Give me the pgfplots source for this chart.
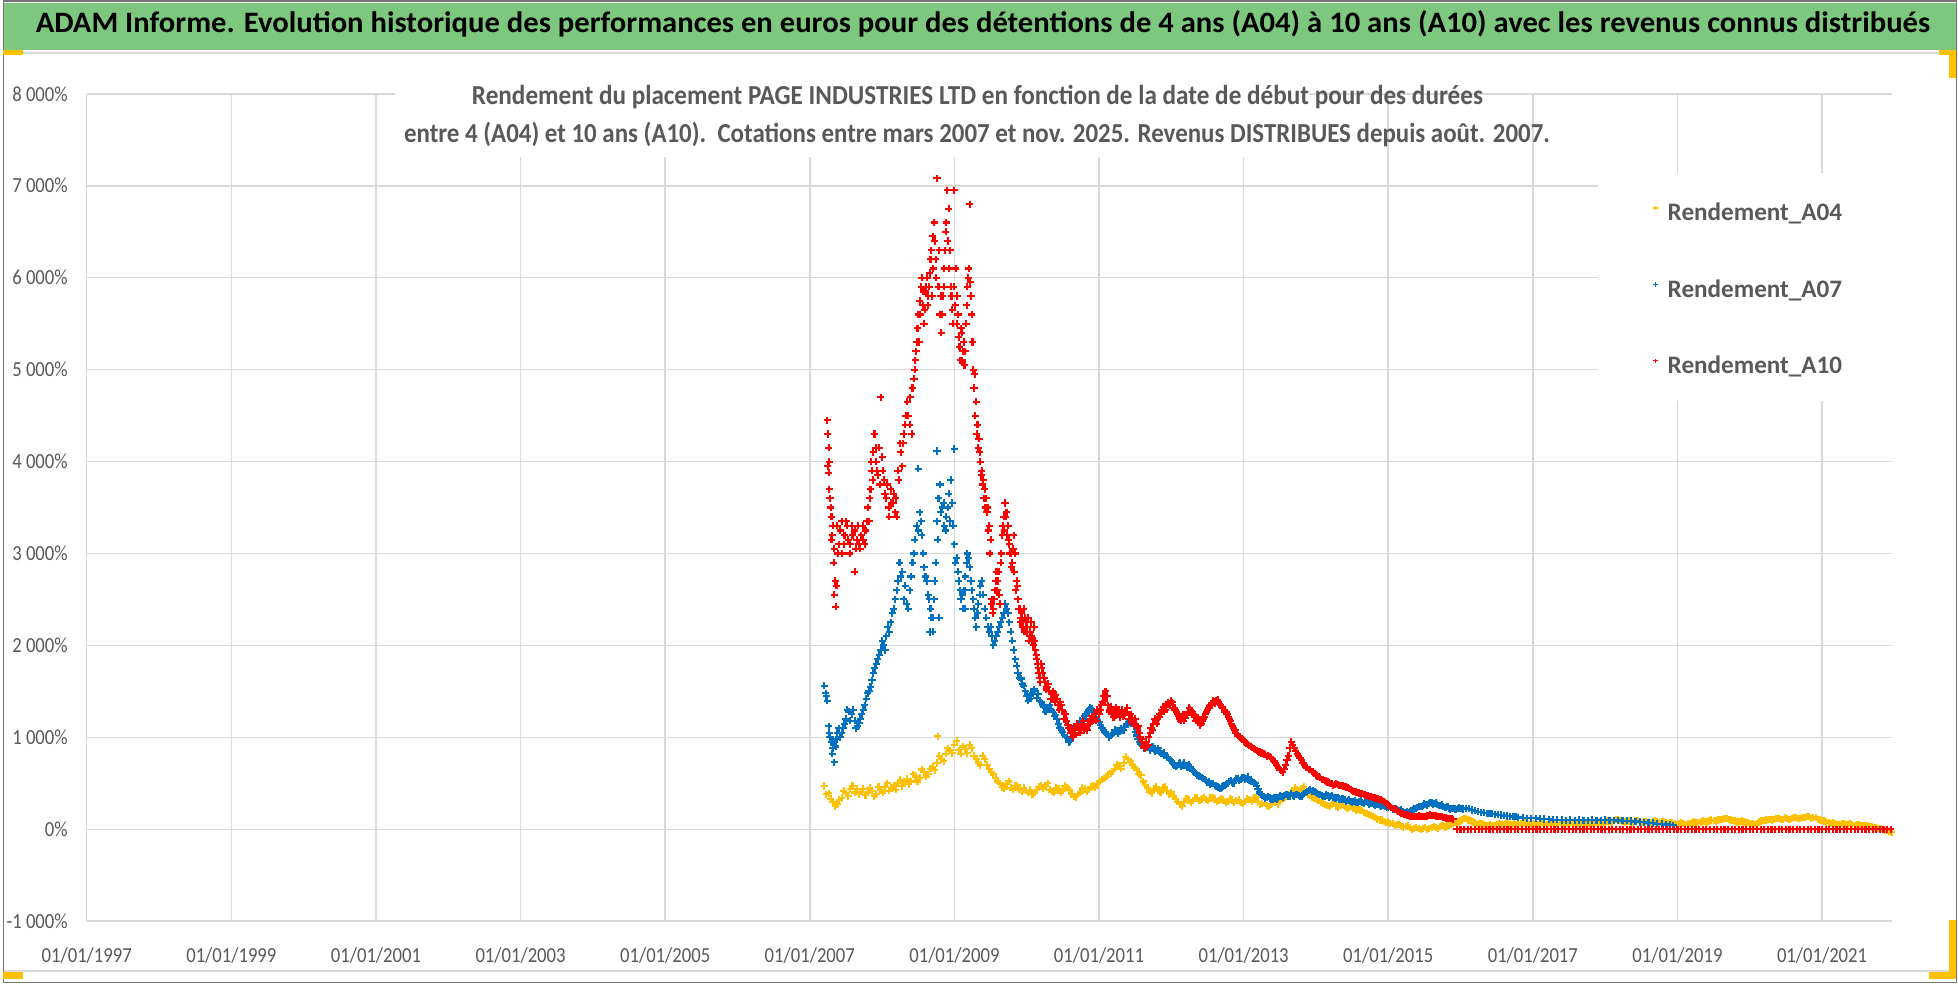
\documentclass[border=0pt]{standalone}
\usepackage{pgfplots}
\pgfplotsset{compat=1.18}
\usepackage{fontspec}
\setmainfont{Carlito}
\definecolor{gridc}{RGB}{217,217,217}
\definecolor{txt}{RGB}{89,89,89}
\definecolor{ya}{RGB}{255,192,0}
\definecolor{bl}{RGB}{0,112,192}
\definecolor{rd}{RGB}{255,0,0}
\definecolor{gbar}{RGB}{126,199,127}
\definecolor{hand}{RGB}{255,192,0}
\definecolor{frame}{RGB}{118,118,118}
\pgfplotsset{pts/.style={only marks, mark=+, mark size=1.8bp, mark options={line width=1.05bp}}}
\begin{document}
\begin{tikzpicture}[x=0.5bp,y=-0.5bp]
\fill[white] (0,0) rectangle (1958,985);
\fill[gbar] (0,3) rectangle (1958,50);
\draw[gridc,line width=1bp] (0,53) -- (1958,53);
\draw[gridc,line width=1bp] (0,973) -- (1958,973);
\draw[frame,line width=0.75bp] (0.75,0.75) rectangle (1957.25,984.25);
\fill[hand] (0,50) rectangle (20,55);
\fill[hand] (0,974) rectangle (20,981);
\fill[hand] (1940,50) rectangle (1957,55);
\fill[hand] (1950,50) rectangle (1957,78);
\fill[hand] (1950,922) rectangle (1957,981);
\fill[hand] (1930,974) rectangle (1957,981);
\begin{axis}[
  at={(42bp,-461.5bp)}, anchor=south west,
  width=904.5bp, height=414.5bp, scale only axis,
  xmin=1997, xmax=2021.97, ymin=-1000, ymax=8000,
  clip=false,
  xtick={1997,1999,2001,2003,2005,2007,2009,2011,2013,2015,2017,2019,2021},
  xticklabels={01/01/1997,01/01/1999,01/01/2001,01/01/2003,01/01/2005,01/01/2007,01/01/2009,01/01/2011,01/01/2013,01/01/2015,01/01/2017,01/01/2019,01/01/2021},
  ytick={-1000,0,1000,2000,3000,4000,5000,6000,7000,8000},
  yticklabels={-1 000\%,0\%,1 000\%,2 000\%,3 000\%,4 000\%,5 000\%,6 000\%,7 000\%,8 000\%},
  grid=major, major grid style={gridc,line width=0.75bp},
  axis line style={draw=none}, major tick length=0pt,
  tick label style={font=\fontsize{9.35bp}{11bp}\selectfont, text=txt, yscale=1.15},
  yticklabel style={xshift=-6bp},
  xticklabel style={yshift=-8bp},
  legend style={at={(axis description cs:0.8675,0.8685)}, anchor=north west, draw=none, fill=none,
    inner sep=0pt, row sep=26.25bp, column sep=5bp,
    nodes={inner sep=0pt, text height=9bp, text depth=3bp},
    font=\fontsize{12.6bp}{15bp}\selectfont\bfseries, text=txt},
  legend cell align=left,
  legend image code/.code={\draw[#1, mark size=1.1bp, mark options={line width=0.65bp}] plot coordinates {(0bp,3.5bp)};},
]
% ---------------- Rendement_A04
\addplot[pts, ya] coordinates {
(2007.20,470) (2007.26,390) (2007.32,300) (2007.38,270) (2007.44,340) (2007.50,390) (2007.56,440) (2007.62,400) (2007.68,380) (2007.74,440)
(2007.80,400) (2007.86,420) (2007.92,380) (2007.98,430) (2008.04,460) (2008.10,420) (2008.16,480) (2008.22,500) (2008.28,470) (2008.34,550)
(2008.40,520) (2008.46,580) (2008.52,560) (2008.58,620) (2008.64,600) (2008.70,680) (2008.76,720) (2008.82,760) (2008.88,820) (2008.94,860)
(2009.00,920) (2009.06,860) (2009.12,900) (2009.18,830) (2009.24,880) (2009.30,760) (2009.36,700) (2009.42,760) (2009.48,660) (2009.54,600)
(2009.60,520) (2009.66,460) (2009.72,490) (2009.78,450) (2009.84,470) (2009.90,430) (2009.96,450) (2010.02,400) (2010.08,380) (2010.14,430)
(2010.20,470) (2010.26,480) (2010.32,430) (2010.38,400) (2010.44,440) (2010.50,420) (2010.56,450) (2010.62,380) (2010.68,350) (2010.74,400)
(2010.80,440) (2010.86,430) (2010.92,470) (2010.98,490) (2011.04,540) (2011.10,570) (2011.16,610) (2011.22,660) (2011.28,690) (2011.34,720)
(2011.40,760) (2011.46,700) (2011.52,650) (2011.58,590) (2011.64,480) (2011.70,410) (2011.76,440) (2011.82,420) (2011.88,450) (2011.94,420)
(2012.00,400) (2012.06,330) (2012.12,270) (2012.18,300) (2012.24,320) (2012.30,310) (2012.36,340) (2012.42,330) (2012.48,320) (2012.54,340)
(2012.60,330) (2012.66,310) (2012.72,320) (2012.78,300) (2012.84,320) (2012.90,310) (2012.96,290) (2013.02,300) (2013.08,320) (2013.14,340)
(2013.20,300) (2013.26,280) (2013.32,260) (2013.38,270) (2013.44,290) (2013.50,300) (2013.56,340) (2013.62,380) (2013.68,410) (2013.74,430)
(2013.80,440) (2013.86,400) (2013.92,370) (2013.98,340) (2014.04,310) (2014.10,280) (2014.16,260) (2014.22,270) (2014.28,250) (2014.34,260)
(2014.40,250) (2014.46,240) (2014.52,230) (2014.58,220) (2014.64,200) (2014.70,170) (2014.76,150) (2014.82,130) (2014.88,100) (2014.94,85)
(2015.00,80) (2015.06,60) (2015.12,50) (2015.18,40) (2015.24,30) (2015.30,20) (2015.36,10) (2015.42,5) (2015.48,10) (2015.54,0)
(2015.60,15) (2015.66,20) (2015.72,30) (2015.78,25) (2015.84,45) (2015.90,60) (2015.96,80) (2016.02,100) (2016.08,115) (2016.14,90)
(2016.20,70) (2016.26,60) (2016.32,50) (2016.38,45) (2016.44,40) (2016.50,50) (2016.56,55) (2016.62,60) (2016.68,50) (2016.74,60)
(2016.80,55) (2016.86,65) (2016.92,60) (2016.98,55) (2017.04,60) (2017.10,65) (2017.16,55) (2017.22,60) (2017.28,70) (2017.34,60)
(2017.40,55) (2017.46,65) (2017.52,60) (2017.58,70) (2017.64,60) (2017.70,55) (2017.76,65) (2017.82,60) (2017.88,70) (2017.94,75)
(2018.00,80) (2018.06,85) (2018.12,95) (2018.18,100) (2018.24,90) (2018.30,85) (2018.36,80) (2018.42,90) (2018.48,85) (2018.54,80)
(2018.60,75) (2018.66,80) (2018.72,85) (2018.78,80) (2018.84,75) (2018.90,70) (2018.96,65) (2019.02,60) (2019.08,65) (2019.14,60)
(2019.20,70) (2019.26,75) (2019.32,80) (2019.38,85) (2019.44,90) (2019.50,95) (2019.56,100) (2019.62,110) (2019.68,115) (2019.74,100)
(2019.80,90) (2019.86,85) (2019.92,80) (2019.98,70) (2020.04,60) (2020.10,65) (2020.16,90) (2020.22,100) (2020.28,105) (2020.34,110)
(2020.40,115) (2020.46,110) (2020.52,120) (2020.58,115) (2020.64,125) (2020.70,120) (2020.76,130) (2020.82,135) (2020.88,125) (2020.94,110)
(2021.00,95) (2021.06,80) (2021.12,65) (2021.18,60) (2021.24,55) (2021.30,60) (2021.36,50) (2021.42,55) (2021.48,50) (2021.54,45)
(2021.60,40) (2021.66,30) (2021.72,20) (2021.78,10) (2021.84,0) (2021.90,-15) (2021.96,-30) (2008.77,1010)
};
\addlegendentry{Rendement\_A04}
\addplot[pts, ya, forget plot] coordinates {
(2007.23,380) (2007.29,330) (2007.35,250) (2007.41,320) (2007.47,420) (2007.53,360) (2007.59,470) (2007.65,440) (2007.71,410) (2007.77,370)
(2007.83,450) (2007.89,360) (2007.95,460) (2008.01,400) (2008.07,500) (2008.13,450) (2008.19,430) (2008.25,540) (2008.31,510) (2008.37,490)
(2008.43,600) (2008.49,520) (2008.55,650) (2008.61,570) (2008.67,660) (2008.73,640) (2008.79,800) (2008.85,740) (2008.91,880) (2008.97,830)
(2009.03,960) (2009.09,820) (2009.15,870) (2009.21,920) (2009.27,800) (2009.33,720) (2009.39,800) (2009.45,700) (2009.51,620) (2009.57,560)
(2009.63,500) (2009.69,440) (2009.75,520) (2009.81,430) (2009.87,480) (2009.93,410) (2009.99,420) (2010.05,430) (2010.11,400) (2010.17,460)
(2010.23,440) (2010.29,500) (2010.35,410) (2010.41,450) (2010.47,400) (2010.53,470) (2010.59,430) (2010.65,360) (2010.71,380) (2010.77,450)
(2010.83,410) (2010.89,460) (2010.95,450) (2011.01,520) (2011.07,550) (2011.13,600) (2011.19,630) (2011.25,700) (2011.31,660) (2011.37,790)
(2011.43,740) (2011.49,680) (2011.55,600) (2011.61,520) (2011.67,450) (2011.73,390) (2011.79,460) (2011.85,400) (2011.91,460) (2011.97,380)
(2012.03,360) (2012.09,300) (2012.15,250) (2012.21,330) (2012.27,290) (2012.33,340) (2012.39,310) (2012.45,350) (2012.51,310) (2012.57,350)
(2012.63,300) (2012.69,330) (2012.75,290) (2012.81,330) (2012.87,290) (2012.93,320) (2012.99,280) (2013.05,330) (2013.11,300) (2013.17,350)
(2013.23,270) (2013.29,290) (2013.35,250) (2013.41,300) (2013.47,270) (2013.53,320) (2013.59,360) (2013.65,400) (2013.71,450) (2013.77,420)
(2013.83,460) (2013.89,380) (2013.95,350) (2014.01,320) (2014.07,290) (2014.13,270) (2014.19,250) (2014.25,280) (2014.31,240) (2014.37,270)
(2014.43,230) (2014.49,250) (2014.55,210) (2014.61,210) (2014.67,180) (2014.73,160) (2014.79,140) (2014.85,110) (2014.91,100) (2014.97,70)
(2015.03,65) (2015.09,45) (2015.15,55) (2015.21,25) (2015.27,35) (2015.33,0) (2015.39,20) (2015.45,-5) (2015.51,20) (2015.57,10)
(2015.63,30) (2015.69,10) (2015.75,40) (2015.81,35) (2015.87,55) (2015.93,70) (2015.99,90) (2016.05,120) (2016.11,100) (2016.17,80)
(2016.23,55) (2016.29,65) (2016.35,40) (2016.41,55) (2016.47,35) (2016.53,60) (2016.59,50) (2016.65,65) (2016.71,55) (2016.77,50)
(2016.83,60) (2016.89,70) (2016.95,50) (2017.01,65) (2017.07,55) (2017.13,70) (2017.19,50) (2017.25,65) (2017.31,55) (2017.37,70)
(2017.43,50) (2017.49,60) (2017.55,65) (2017.61,55) (2017.67,70) (2017.73,60) (2017.79,55) (2017.85,65) (2017.91,80) (2017.97,70)
(2018.03,90) (2018.09,80) (2018.15,105) (2018.21,95) (2018.27,80) (2018.33,90) (2018.39,75) (2018.45,95) (2018.51,75) (2018.57,85)
(2018.63,70) (2018.69,90) (2018.75,75) (2018.81,85) (2018.87,65) (2018.93,75) (2018.99,55) (2019.05,70) (2019.11,55) (2019.17,65)
(2019.23,80) (2019.29,70) (2019.35,90) (2019.41,80) (2019.47,100) (2019.53,90) (2019.59,105) (2019.65,120) (2019.71,110) (2019.77,95)
(2019.83,80) (2019.89,90) (2019.95,75) (2020.01,65) (2020.07,55) (2020.13,80) (2020.19,95) (2020.25,110) (2020.31,100) (2020.37,120)
(2020.43,105) (2020.49,125) (2020.55,110) (2020.61,130) (2020.67,115) (2020.73,125) (2020.79,140) (2020.85,120) (2020.91,130) (2020.97,100)
(2021.03,90) (2021.09,70) (2021.15,70) (2021.21,50) (2021.27,65) (2021.33,55) (2021.39,60) (2021.45,45) (2021.51,55) (2021.57,35)
(2021.63,40) (2021.69,25) (2021.75,15) (2021.81,5) (2021.87,-10) (2021.93,-20)
};
% ---------------- Rendement_A07
\addplot[pts, bl] coordinates {
(2007.20,1560) (2007.22,1480) (2007.24,1400) (2007.26,1120) (2007.28,1000) (2007.30,950) (2007.32,880) (2007.34,730) (2007.36,900) (2007.38,1050)
(2007.42,1000) (2007.46,1100) (2007.50,1200) (2007.54,1280) (2007.58,1250) (2007.62,1180) (2007.66,1120) (2007.70,1200) (2007.74,1300) (2007.78,1420)
(2007.82,1500) (2007.86,1620) (2007.90,1750) (2007.94,1850) (2007.98,1950) (2008.02,2000) (2008.06,2100) (2008.10,2150) (2008.14,2350) (2008.18,2500)
(2008.22,2700) (2008.24,2900) (2008.28,2800) (2008.32,2650) (2008.34,2450) (2008.38,2600) (2008.42,2900) (2008.45,3150) (2008.48,3300) (2008.52,3450)
(2008.55,3200) (2008.58,2850) (2008.62,2700) (2008.65,2500) (2008.68,2300) (2008.70,2150) (2008.72,2500) (2008.74,2900) (2008.76,3350) (2008.78,3600)
(2008.80,3750) (2008.83,3500) (2008.86,3300) (2008.89,3400) (2008.92,3650) (2008.95,3800) (2008.98,3300) (2009.00,3100) (2009.03,2950) (2009.06,2700)
(2009.09,2500) (2009.12,2400) (2009.15,2750) (2009.18,3000) (2009.21,2850) (2009.24,2600) (2009.27,2400) (2009.30,2200) (2009.33,2450) (2009.36,2650)
(2009.40,2550) (2009.44,2300) (2009.48,2150) (2009.52,2100) (2009.56,2050) (2009.60,2150) (2009.64,2250) (2009.68,2350) (2009.72,2400) (2009.76,2250)
(2009.80,2050) (2009.84,1850) (2009.88,1700) (2009.92,1640) (2009.96,1560) (2010.00,1450) (2010.04,1420) (2010.08,1480) (2010.12,1500) (2010.16,1470)
(2010.20,1380) (2010.24,1330) (2010.28,1300) (2010.32,1350) (2010.36,1280) (2010.40,1240) (2010.44,1150) (2010.48,1080) (2010.52,1030) (2010.56,990)
(2010.60,960) (2010.64,1050) (2010.68,1120) (2010.72,1150) (2010.76,1170) (2010.80,1230) (2010.84,1280) (2010.88,1320) (2010.92,1280) (2010.96,1220)
(2011.00,1170) (2011.04,1100) (2011.08,1060) (2011.12,1030) (2011.16,1020) (2011.20,1050) (2011.24,1070) (2011.28,1060) (2011.32,1080) (2011.36,1110)
(2011.40,1150) (2011.44,1170) (2011.48,1120) (2011.52,1020) (2011.56,950) (2011.60,910) (2011.64,900) (2011.68,890) (2011.72,880) (2011.76,870)
(2011.80,860) (2011.84,840) (2011.88,820) (2011.92,800) (2011.96,780) (2012.00,740) (2012.04,700) (2012.08,690) (2012.12,720) (2012.16,700)
(2012.20,690) (2012.24,700) (2012.28,650) (2012.32,620) (2012.36,590) (2012.40,570) (2012.44,550) (2012.48,530) (2012.52,520) (2012.56,500)
(2012.60,480) (2012.64,460) (2012.68,440) (2012.72,470) (2012.76,490) (2012.80,520) (2012.84,510) (2012.88,530) (2012.92,550) (2012.96,540)
(2013.00,560) (2013.04,550) (2013.08,530) (2013.12,520) (2013.16,500) (2013.20,440) (2013.24,380) (2013.28,360) (2013.32,350) (2013.36,340)
(2013.40,330) (2013.44,340) (2013.48,350) (2013.52,360) (2013.56,370) (2013.60,380) (2013.64,360) (2013.68,370) (2013.72,380) (2013.76,370)
(2013.80,360) (2013.84,390) (2013.88,410) (2013.92,430) (2013.96,420) (2014.00,400) (2014.04,380) (2014.08,370) (2014.12,360) (2014.16,370)
(2014.20,360) (2014.24,350) (2014.28,340) (2014.32,330) (2014.36,330) (2014.40,320) (2014.44,310) (2014.48,300) (2014.52,300) (2014.56,290)
(2014.60,300) (2014.64,290) (2014.68,300) (2014.72,290) (2014.76,280) (2014.80,270) (2014.84,270) (2014.88,260) (2014.92,255) (2014.96,250)
(2015.00,240) (2015.04,235) (2015.08,225) (2015.12,210) (2015.16,200) (2015.20,190) (2015.24,185) (2015.28,180) (2015.32,200) (2015.36,220)
(2015.40,235) (2015.44,250) (2015.48,260) (2015.52,270) (2015.56,280) (2015.60,285) (2015.64,280) (2015.68,270) (2015.72,260) (2015.76,245)
(2015.80,240) (2015.84,230) (2015.88,225) (2015.92,220) (2015.96,230) (2016.00,225) (2016.04,220) (2016.08,230) (2016.12,225) (2016.16,210)
(2016.20,200) (2016.24,190) (2016.28,185) (2016.32,180) (2016.36,175) (2016.40,170) (2016.44,170) (2016.48,165) (2016.52,160) (2016.56,155)
(2016.60,150) (2016.64,145) (2016.68,140) (2016.72,135) (2016.76,135) (2016.80,130) (2016.86,125) (2016.92,120) (2016.98,120) (2017.04,118)
(2017.10,116) (2017.16,112) (2017.22,108) (2017.28,105) (2017.34,102) (2017.40,100) (2017.46,98) (2017.52,100) (2017.58,98) (2017.64,100)
(2017.70,97) (2017.76,98) (2017.82,100) (2017.88,97) (2017.94,98) (2018.00,100) (2018.06,98) (2018.12,96) (2018.18,95) (2018.24,94)
(2018.30,92) (2018.36,90) (2018.42,85) (2018.48,80) (2018.54,78) (2018.60,72) (2018.66,68) (2018.72,62) (2018.78,58) (2018.84,52)
(2018.90,46) (2018.94,44) (2008.50,3920) (2008.76,4115) (2009.00,4137) (2008.66,2145) (2008.79,2300) (2009.15,2400)
};
\addlegendentry{Rendement\_A07}
\addplot[pts, bl, forget plot] coordinates {
(2007.23,1450) (2007.27,1050) (2007.31,820) (2007.33,950) (2007.37,980) (2007.40,1100) (2007.44,1050) (2007.48,1150) (2007.52,1300) (2007.56,1180)
(2007.60,1300) (2007.64,1100) (2007.68,1160) (2007.72,1250) (2007.76,1350) (2007.80,1480) (2007.84,1550) (2007.88,1700) (2007.92,1800) (2007.96,1900)
(2008.00,2050) (2008.04,1950) (2008.08,2200) (2008.12,2250) (2008.16,2400) (2008.20,2600) (2008.26,2750) (2008.30,2500) (2008.36,2400) (2008.40,2750)
(2008.44,3000) (2008.50,3250) (2008.54,3350) (2008.57,3000) (2008.60,2750) (2008.64,2550) (2008.67,2400) (2008.71,2300) (2008.73,2700) (2008.77,3150)
(2008.81,3450) (2008.85,3550) (2008.88,3250) (2008.91,3500) (2008.94,3350) (2008.97,3550) (2009.01,2900) (2009.05,2800) (2009.08,2600) (2009.11,2550)
(2009.14,2600) (2009.17,2900) (2009.20,2950) (2009.23,2700) (2009.26,2500) (2009.29,2300) (2009.32,2350) (2009.35,2550) (2009.38,2700) (2009.42,2400)
(2009.46,2200) (2009.50,2200) (2009.54,2000) (2009.58,2100) (2009.62,2200) (2009.66,2300) (2009.70,2450) (2009.74,2350) (2009.78,2150) (2009.82,1950)
(2009.86,1780) (2009.90,1650) (2009.94,1580) (2009.98,1500) (2010.02,1400) (2010.06,1470) (2010.10,1520) (2010.14,1430) (2010.18,1400) (2010.22,1350)
(2010.26,1280) (2010.30,1320) (2010.34,1300) (2010.38,1230) (2010.42,1200) (2010.46,1100) (2010.50,1060) (2010.54,1000) (2010.58,950) (2010.62,1000)
(2010.66,1080) (2010.70,1140) (2010.74,1180) (2010.78,1200) (2010.82,1250) (2010.86,1300) (2010.90,1310) (2010.94,1250) (2010.98,1190) (2011.02,1130)
(2011.06,1080) (2011.10,1040) (2011.14,1000) (2011.18,1040) (2011.22,1080) (2011.26,1040) (2011.30,1100) (2011.34,1080) (2011.38,1140) (2011.42,1180)
(2011.46,1150) (2011.50,1060) (2011.54,980) (2011.58,930) (2011.62,880) (2011.66,920) (2011.70,860) (2011.74,900) (2011.78,850) (2011.82,880)
(2011.86,820) (2011.90,830) (2011.94,780) (2011.98,760) (2012.02,720) (2012.06,680) (2012.10,710) (2012.14,680) (2012.18,720) (2012.22,670)
(2012.26,680) (2012.30,630) (2012.34,610) (2012.38,580) (2012.42,560) (2012.46,540) (2012.50,510) (2012.54,490) (2012.58,500) (2012.62,470)
(2012.66,450) (2012.70,460) (2012.74,480) (2012.78,500) (2012.82,530) (2012.86,500) (2012.90,550) (2012.94,530) (2012.98,560) (2013.02,540)
(2013.06,570) (2013.10,520) (2013.14,510) (2013.18,470) (2013.22,400) (2013.26,370) (2013.30,340) (2013.34,360) (2013.38,330) (2013.42,350)
(2013.46,330) (2013.50,370) (2013.54,350) (2013.58,380) (2013.62,360) (2013.66,390) (2013.70,360) (2013.74,380) (2013.78,360) (2013.82,380)
(2013.86,400) (2013.90,420) (2013.94,410) (2013.98,410) (2014.02,390) (2014.06,380) (2014.10,360) (2014.14,380) (2014.18,350) (2014.22,370)
(2014.26,340) (2014.30,350) (2014.34,320) (2014.38,330) (2014.42,300) (2014.46,320) (2014.50,290) (2014.54,310) (2014.58,290) (2014.62,310)
(2014.66,280) (2014.70,300) (2014.74,275) (2014.78,285) (2014.82,260) (2014.86,275) (2014.90,250) (2014.94,260) (2014.98,240) (2015.02,245)
(2015.06,220) (2015.10,230) (2015.14,200) (2015.18,210) (2015.22,180) (2015.26,195) (2015.30,190) (2015.34,215) (2015.38,230) (2015.42,250)
(2015.46,245) (2015.50,275) (2015.54,265) (2015.58,290) (2015.62,275) (2015.66,285) (2015.70,260) (2015.74,265) (2015.78,235) (2015.82,245)
(2015.86,220) (2015.90,230) (2015.94,215) (2015.98,235)
};
% ---------------- Rendement_A10
\addplot[pts, rd] coordinates {
(2007.24,4450) (2007.25,4300) (2007.26,4150) (2007.25,3950) (2007.26,3880) (2007.27,3700) (2007.28,3600) (2007.30,3400) (2007.32,3300) (2007.34,3050)
(2007.35,2700) (2007.34,2550) (2007.36,2420) (2007.30,3150) (2007.38,3300) (2007.40,3100) (2007.42,3250) (2007.45,3000) (2007.48,3200) (2007.50,3350)
(2007.53,3150) (2007.56,3100) (2007.59,3200) (2007.62,2800) (2007.62,3250) (2007.65,3150) (2007.68,3100) (2007.71,3200) (2007.74,3150) (2007.77,3250)
(2007.80,3500) (2007.82,3350) (2007.84,3700) (2007.86,3900) (2007.88,4100) (2007.90,4300) (2007.92,4000) (2007.94,3850) (2007.96,4150) (2007.98,4700)
(2008.00,4050) (2008.03,3800) (2008.06,3600) (2008.09,3500) (2008.12,3700) (2008.15,3550) (2008.18,3450) (2008.20,3400) (2008.23,3800) (2008.26,4100)
(2008.28,3950) (2008.30,4300) (2008.33,4500) (2008.35,4650) (2008.38,4400) (2008.41,4300) (2008.44,4900) (2008.46,5100) (2008.48,5300) (2008.50,5600)
(2008.52,5750) (2008.54,5900) (2008.56,5700) (2008.58,5500) (2008.60,5850) (2008.62,6000) (2008.64,5800) (2008.66,6050) (2008.68,6300) (2008.70,6450)
(2008.72,6600) (2008.74,6200) (2008.76,7080) (2008.78,5900) (2008.80,5600) (2008.82,5400) (2008.84,5800) (2008.86,6100) (2008.88,6500) (2008.90,6950)
(2008.92,6750) (2008.94,6300) (2008.96,5800) (2008.98,5500) (2009.00,6950) (2009.02,6100) (2009.04,5800) (2009.06,5350) (2009.08,5100) (2009.10,5400)
(2009.12,5200) (2009.14,5050) (2009.16,5500) (2009.18,5900) (2009.20,6100) (2009.22,5950) (2009.21,6800) (2009.24,5600) (2009.26,5000) (2009.28,4950)
(2009.30,4650) (2009.32,4400) (2009.34,4250) (2009.36,4000) (2009.38,3900) (2009.40,3800) (2009.42,3700) (2009.44,3600) (2009.46,3500) (2009.48,3300)
(2009.50,3150) (2009.52,2500) (2009.54,2400) (2009.56,2600) (2009.58,2800) (2009.60,2700) (2009.62,2550) (2009.64,2900) (2009.66,3200) (2009.68,3400)
(2009.70,3550) (2009.72,3450) (2009.74,3300) (2009.76,3100) (2009.78,3000) (2009.80,2900) (2009.82,3200) (2009.84,3000) (2009.86,2700) (2009.88,2500)
(2009.90,2400) (2009.92,2300) (2009.94,2200) (2009.96,2400) (2009.98,2300) (2010.00,2150) (2010.02,2300) (2010.04,2100) (2010.06,2250) (2010.08,2050)
(2010.10,2200) (2010.12,1950) (2010.14,1850) (2010.16,1750) (2010.18,1650) (2010.20,1800) (2010.22,1700) (2010.25,1600) (2010.28,1550) (2010.31,1500)
(2010.34,1480) (2010.37,1420) (2010.40,1460) (2010.43,1350) (2010.46,1380) (2010.49,1300) (2010.52,1250) (2010.55,1180) (2010.58,1100) (2010.61,1050)
(2010.64,1000) (2010.67,1080) (2010.70,1120) (2010.73,1050) (2010.76,1150) (2010.79,1080) (2010.82,1100) (2010.85,1150) (2010.88,1200) (2010.91,1180)
(2010.94,1250) (2010.97,1300) (2011.00,1250) (2011.03,1350) (2011.06,1450) (2011.09,1500) (2011.12,1350) (2011.15,1300) (2011.18,1250) (2011.21,1280)
(2011.24,1240) (2011.27,1300) (2011.30,1260) (2011.33,1230) (2011.36,1280) (2011.39,1320) (2011.42,1250) (2011.45,1200) (2011.48,1180) (2011.51,1150)
(2011.54,1120) (2011.57,1000) (2011.60,950) (2011.63,880) (2011.66,900) (2011.69,1000) (2011.72,1100) (2011.75,1150) (2011.78,1180) (2011.81,1200)
(2011.84,1250) (2011.87,1300) (2011.90,1280) (2011.93,1350) (2011.96,1380) (2011.99,1400) (2012.02,1350) (2012.05,1300) (2012.08,1250) (2012.11,1200)
(2012.14,1220) (2012.17,1180) (2012.20,1250) (2012.23,1280) (2012.26,1300) (2012.29,1270) (2012.32,1220) (2012.35,1200) (2012.38,1180) (2012.41,1150)
(2012.44,1200) (2012.47,1250) (2012.50,1300) (2012.53,1340) (2012.56,1370) (2012.59,1390) (2012.62,1400) (2012.65,1380) (2012.68,1350) (2012.71,1320)
(2012.74,1280) (2012.77,1250) (2012.80,1200) (2012.83,1150) (2012.86,1100) (2012.89,1050) (2012.92,1020) (2012.95,1000) (2012.98,980) (2013.02,950)
(2013.06,920) (2013.10,900) (2013.14,880) (2013.18,860) (2013.22,840) (2013.26,830) (2013.30,810) (2013.34,800) (2013.38,780) (2013.42,740)
(2013.46,700) (2013.50,650) (2013.54,620) (2013.58,700) (2013.62,800) (2013.66,950) (2013.70,880) (2013.74,820) (2013.78,780) (2013.82,720)
(2013.86,680) (2013.90,650) (2013.94,630) (2013.98,610) (2014.02,580) (2014.06,560) (2014.10,540) (2014.14,525) (2014.18,505) (2014.22,495)
(2014.26,485) (2014.30,490) (2014.34,480) (2014.38,470) (2014.42,460) (2014.46,440) (2014.50,420) (2014.54,410) (2014.58,400) (2014.62,390)
(2014.66,380) (2014.70,370) (2014.74,360) (2014.78,350) (2014.82,340) (2014.86,330) (2014.90,320) (2014.94,300) (2014.98,280) (2015.02,250)
(2015.06,230) (2015.10,215) (2015.14,195) (2015.18,175) (2015.22,165) (2015.26,155) (2015.30,145) (2015.34,140) (2015.38,135) (2015.42,145)
(2015.46,140) (2015.50,135) (2015.54,145) (2015.58,155) (2015.62,150) (2015.66,145) (2015.70,140) (2015.74,135) (2015.78,125) (2015.82,120)
(2015.86,115) (2015.90,110)
(2015.95,0) (2016.00,0) (2016.05,0) (2016.10,0) (2016.15,0) (2016.20,0) (2016.25,0) (2016.30,0) (2016.35,0) (2016.40,0)
(2016.45,0) (2016.50,0) (2016.55,0) (2016.60,0) (2016.65,0) (2016.70,0) (2016.75,0) (2016.80,0) (2016.85,0) (2016.90,0)
(2016.95,0) (2017.00,0) (2017.05,0) (2017.10,0) (2017.15,0) (2017.20,0) (2017.25,0) (2017.30,0) (2017.35,0) (2017.40,0)
(2017.45,0) (2017.50,0) (2017.55,0) (2017.60,0) (2017.65,0) (2017.70,0) (2017.75,0) (2017.80,0) (2017.85,0) (2017.90,0)
(2017.95,0) (2018.00,0) (2018.05,0) (2018.10,0) (2018.15,0) (2018.20,0) (2018.25,0) (2018.30,0) (2018.35,0) (2018.40,0)
(2018.45,0) (2018.50,0) (2018.55,0) (2018.60,0) (2018.65,0) (2018.70,0) (2018.75,0) (2018.80,0) (2018.85,0) (2018.90,0)
(2018.95,0) (2019.00,0) (2019.05,0) (2019.10,0) (2019.15,0) (2019.20,0) (2019.25,0) (2019.30,0) (2019.35,0) (2019.40,0)
(2019.45,0) (2019.50,0) (2019.55,0) (2019.60,0) (2019.65,0) (2019.70,0) (2019.75,0) (2019.80,0) (2019.85,0) (2019.90,0)
(2019.95,0) (2020.00,0) (2020.05,0) (2020.10,0) (2020.15,0) (2020.20,0) (2020.25,0) (2020.30,0) (2020.35,0) (2020.40,0)
(2020.45,0) (2020.50,0) (2020.55,0) (2020.60,0) (2020.65,0) (2020.70,0) (2020.75,0) (2020.80,0) (2020.85,0) (2020.90,0)
(2020.95,0) (2021.00,0) (2021.05,0) (2021.10,0) (2021.15,0) (2021.20,0) (2021.25,0) (2021.30,0) (2021.35,0) (2021.40,0)
(2021.45,0) (2021.50,0) (2021.55,0) (2021.60,0) (2021.65,0) (2021.70,0) (2021.75,0) (2021.80,0) (2021.85,0) (2021.90,0)
(2021.95,0)
};
\addlegendentry{Rendement\_A10}
\addplot[pts, rd, forget plot] coordinates {
(2007.27,4000) (2007.29,3500) (2007.31,3200) (2007.33,2900) (2007.37,2650) (2007.39,3000) (2007.44,3350) (2007.47,3100) (2007.52,3300) (2007.55,3000)
(2007.58,3300) (2007.64,3050) (2007.67,3300) (2007.70,3050) (2007.73,3300) (2007.76,3100) (2007.79,3350) (2007.83,3600) (2007.85,4000) (2007.87,3800)
(2007.89,4300) (2007.91,4150) (2007.93,3900) (2007.97,3750) (2008.01,3900) (2008.04,3650) (2008.07,3750) (2008.10,3400) (2008.13,3550) (2008.16,3650)
(2008.19,3600) (2008.22,3900) (2008.25,4200) (2008.29,4200) (2008.32,4400) (2008.36,4500) (2008.39,4700) (2008.42,4800) (2008.45,5000) (2008.47,5200)
(2008.49,5450) (2008.51,5300) (2008.53,5600) (2008.55,6000) (2008.57,5850) (2008.59,5650) (2008.61,5900) (2008.63,5700) (2008.65,5900) (2008.67,6200)
(2008.69,5800) (2008.71,6100) (2008.73,6400) (2008.75,6000) (2008.79,6300) (2008.81,5800) (2008.83,5600) (2008.85,5900) (2008.87,6300) (2008.89,6600)
(2008.91,6400) (2008.93,6100) (2008.95,5900) (2008.97,5650) (2008.99,5900) (2009.01,5700) (2009.03,5500) (2009.05,5600) (2009.07,5250) (2009.09,5450)
(2009.11,5100) (2009.13,5300) (2009.15,5200) (2009.17,5700) (2009.19,6000) (2009.23,5800) (2009.25,5300) (2009.27,4800) (2009.29,4500) (2009.31,4300)
(2009.33,4150) (2009.35,4100) (2009.37,3850) (2009.39,3750) (2009.41,3600) (2009.43,3500) (2009.45,3450) (2009.47,3250) (2009.49,3000) (2009.51,2450)
(2009.53,2350) (2009.55,2500) (2009.57,2700) (2009.59,2600) (2009.61,2800) (2009.63,2450) (2009.65,3000) (2009.67,3300) (2009.69,3250) (2009.71,3400)
(2009.73,3200) (2009.75,3150) (2009.77,3000) (2009.79,2850) (2009.81,3050) (2009.83,2800) (2009.85,2600) (2009.87,2650) (2009.89,2400) (2009.91,2250)
(2009.93,2350) (2009.95,2250) (2009.97,2150) (2009.99,2250) (2010.01,2200) (2010.03,2050) (2010.05,2150) (2010.07,2100) (2010.09,2000) (2010.11,2050)
(2010.13,1900) (2010.15,1800) (2010.17,1700) (2010.19,1600) (2010.21,1750)
(2010.24,1650) (2010.27,1520) (2010.30,1580) (2010.33,1420) (2010.36,1500) (2010.39,1380) (2010.42,1420) (2010.45,1300) (2010.48,1350) (2010.51,1200)
(2010.54,1250) (2010.57,1130) (2010.60,1080) (2010.63,1100) (2010.66,1030) (2010.69,1150) (2010.72,1080) (2010.75,1100) (2010.78,1180) (2010.81,1120)
(2010.84,1080) (2010.87,1150) (2010.90,1230) (2010.93,1200) (2010.96,1180) (2010.99,1280) (2011.02,1300) (2011.05,1380) (2011.08,1400) (2011.11,1450)
(2011.14,1280) (2011.17,1330) (2011.20,1220) (2011.23,1320) (2011.26,1260) (2011.29,1220) (2011.32,1300) (2011.35,1240) (2011.38,1280) (2011.41,1200)
(2011.44,1250) (2011.47,1150) (2011.50,1200) (2011.53,1100) (2011.56,1050) (2011.59,980) (2011.62,900) (2011.65,950) (2011.68,920) (2011.71,1050)
(2011.74,1080) (2011.77,1200) (2011.80,1150) (2011.83,1220) (2011.86,1260) (2011.89,1330) (2011.92,1300) (2011.95,1360) (2011.98,1350) (2012.01,1380)
(2012.04,1320) (2012.07,1280) (2012.10,1230) (2012.13,1180) (2012.16,1250) (2012.19,1210) (2012.22,1240) (2012.25,1320) (2012.28,1290) (2012.31,1250)
(2012.34,1180) (2012.37,1220) (2012.40,1130) (2012.43,1180) (2012.46,1220) (2012.49,1280) (2012.52,1320) (2012.55,1350) (2012.58,1400) (2012.61,1370)
(2012.64,1410) (2012.67,1360) (2012.70,1330) (2012.73,1300) (2012.76,1270) (2012.79,1220) (2012.82,1180) (2012.85,1120) (2012.88,1080) (2012.91,1040)
(2012.94,1010) (2012.97,990) (2013.00,970) (2013.04,930) (2013.08,910) (2013.12,890) (2013.16,870) (2013.20,850) (2013.24,820) (2013.28,820)
(2013.32,790) (2013.36,790) (2013.40,760) (2013.44,720) (2013.48,670) (2013.52,640) (2013.56,660) (2013.60,750) (2013.64,880) (2013.68,920)
(2013.72,850) (2013.76,800) (2013.80,750) (2013.84,700) (2013.88,670) (2013.92,650) (2013.96,620) (2014.00,590) (2014.04,570) (2014.08,545)
(2014.12,530) (2014.16,515) (2014.20,500) (2014.24,480) (2014.28,495) (2014.32,475) (2014.36,475) (2014.40,465) (2014.44,450) (2014.48,430)
(2014.52,415) (2014.56,405) (2014.60,395) (2014.64,385) (2014.68,375) (2014.72,365) (2014.76,355) (2014.80,345) (2014.84,335) (2014.88,325)
(2014.92,310) (2014.96,290) (2015.00,265) (2015.04,240) (2015.08,225) (2015.12,205) (2015.16,185) (2015.20,170) (2015.24,160) (2015.28,150)
(2015.32,143) (2015.36,137) (2015.40,140) (2015.44,143) (2015.48,137) (2015.52,140) (2015.56,150) (2015.60,153) (2015.64,147) (2015.68,143)
(2015.72,137) (2015.76,130) (2015.80,123) (2015.84,117) (2015.88,113)
};
% white boxes behind subtitle and legend
\fill[white] (axis cs:2001.27,7318) rectangle (axis cs:2013.91,8150);
\fill[white] (axis cs:2017.90,4658) rectangle (axis cs:2022.10,7144);
\end{axis}
\node[anchor=base, inner sep=0pt, yscale=1.1] at (982,33) {\resizebox{949bp}{\height}{\fontsize{13.5bp}{16bp}\selectfont\bfseries ADAM Informe. Evolution historique des performances en euros pour des détentions de 4 ans (A04) à 10 ans (A10) avec les revenus connus distribués}};
\node[anchor=base, inner sep=0pt, text=txt, yscale=1.1] at (976.5,105) {\resizebox{506.5bp}{\height}{\fontsize{12.5bp}{15bp}\selectfont\bfseries Rendement du placement PAGE INDUSTRIES LTD en fonction de la date de début pour des durées}};
\node[anchor=base, inner sep=0pt, text=txt, yscale=1.1] at (976,143) {\resizebox{574bp}{\height}{\fontsize{12.5bp}{15bp}\selectfont\bfseries entre 4 (A04) et 10 ans (A10).\ \ Cotations entre mars 2007 et nov. 2025. Revenus DISTRIBUES depuis août. 2007.}};
\end{tikzpicture}
\end{document}
